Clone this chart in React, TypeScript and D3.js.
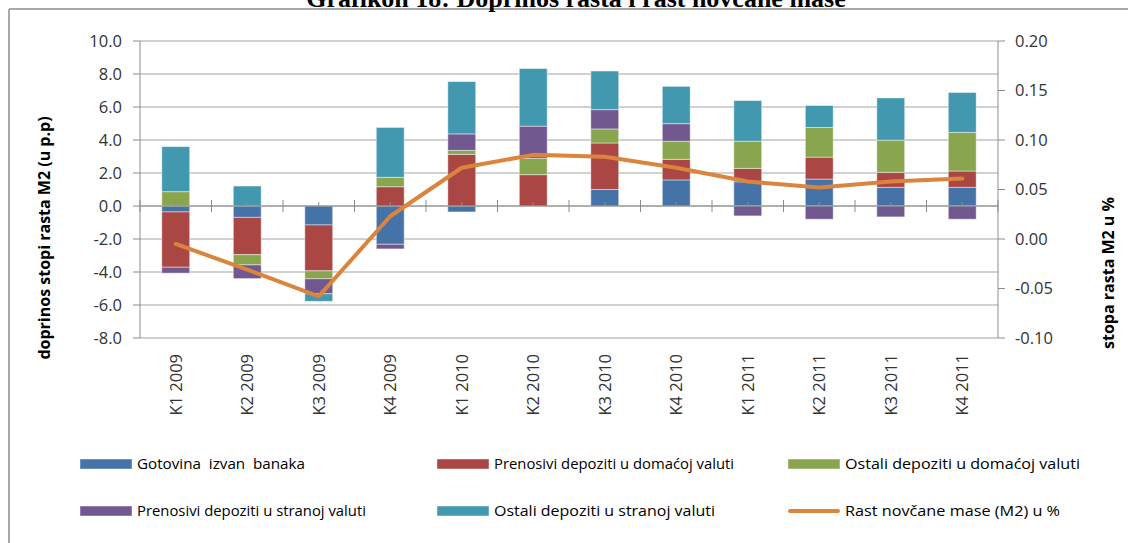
import React from 'react';
import * as d3 from 'd3';

// quarters on the category axis
const categories = [
  'K1 2009', 'K2 2009', 'K3 2009', 'K4 2009',
  'K1 2010', 'K2 2010', 'K3 2010', 'K4 2010',
  'K1 2011', 'K2 2011', 'K3 2011', 'K4 2011',
];

// contributions in p.p. (left axis)
const gotovina = [-0.36, -0.69, -1.15, -2.32, -0.36, 0.0, 1.0, 1.58, 1.47, 1.63, 1.13, 1.13];
const prenosiviDomaci = [-3.35, -2.26, -2.78, 1.17, 3.13, 1.9, 2.82, 1.25, 0.81, 1.33, 0.91, 0.99];
const ostaliDomaci = [0.87, -0.62, -0.48, 0.57, 0.24, 0.99, 0.85, 1.09, 1.65, 1.8, 1.95, 2.34];
const prenosiviStrani = [-0.36, -0.83, -0.91, -0.28, 1.0, 1.95, 1.17, 1.07, -0.6, -0.8, -0.66, -0.8];
const ostaliStrani = [2.73, 1.21, -0.46, 3.02, 3.17, 3.49, 2.34, 2.26, 2.46, 1.33, 2.56, 2.42];

// M2 growth (right axis)
const rastM2 = [-0.005, -0.031, -0.058, 0.023, 0.072, 0.085, 0.083, 0.072, 0.058, 0.052, 0.058, 0.061];

const leftTicks = [-8, -6, -4, -2, 0, 2, 4, 6, 8, 10];
const rightTicks = [-0.1, -0.05, 0, 0.05, 0.1, 0.15, 0.2];

const seriesNames = [
  'Gotovina  izvan  banaka',
  'Prenosivi depoziti u domaćoj valuti',
  'Ostali depoziti u domaćoj valuti',
  'Prenosivi depoziti u stranoj valuti',
  'Ostali depoziti u stranoj valuti',
];
const lineName = 'Rast novčane mase (M2) u %';
const seriesValues = [gotovina, prenosiviDomaci, ostaliDomaci, prenosiviStrani, ostaliStrani];
const colors = ['#4572A7', '#AA4643', '#89A54E', '#71588F', '#4198AF'];
const lineColor = '#DB843D';

const W = 1128;
const H = 543;
const plot = { left: 140, right: 998, top: 41, bottom: 338 };
const font = '"Open Sans", "DejaVu Sans", sans-serif';

const App: React.FC = () => {
  const x = d3.scaleBand<string>().domain(categories).range([plot.left, plot.right]).padding(0);
  const yL = d3.scaleLinear().domain([-8, 10]).range([plot.bottom, plot.top]);
  const yR = d3.scaleLinear().domain([-0.1, 0.2]).range([plot.bottom, plot.top]);
  const barW = x.bandwidth() * 0.39;
  const cx = (c: string) => (x(c) ?? 0) + x.bandwidth() / 2;

  const keys = seriesNames.map((_, i) => `s${i}`);
  const rows = categories.map((c, j) => {
    const r: Record<string, number | string> = { cat: c };
    keys.forEach((k, i) => { r[k] = seriesValues[i][j]; });
    return r;
  });
  const stacked = d3.stack<Record<string, number | string>>()
    .keys(keys)
    .value((d, k) => d[k] as number)
    .offset(d3.stackOffsetDiverging)(rows);

  const line = d3.line<number>()
    .x((_, i) => cx(categories[i]))
    .y(d => yR(d));

  const y0 = yL(0);

  // legend layout (positions only)
  const legendCols = [80, 437, 788];
  const legendRows = [464, 511];
  const legendTextW = [168, 240, 235, 229, 221, 215];
  const legendItems = [...seriesNames, lineName];

  return (
    <svg width={W} height={H} style={{ position: 'absolute', left: 0, top: 0, background: '#fff' }}>
      {/* frame */}
      <line x1={9} y1={9} x2={W} y2={9} stroke="#8c8c8c" strokeWidth={1.5} />
      <line x1={9} y1={9} x2={9} y2={H} stroke="#8c8c8c" strokeWidth={1.5} />

      <text x={576} y={7} textAnchor="middle" fontFamily='"Liberation Serif", serif'
        fontWeight="bold" fontSize={26} fill="#000">
        Grafikon 18: Doprinos rasta i rast novčane mase
      </text>

      {/* gridlines */}
      {leftTicks.map(t => (
        <line key={`g${t}`} x1={plot.left} x2={plot.right} y1={yL(t)} y2={yL(t)}
          stroke="#a3a3a3" strokeWidth={1} />
      ))}

      {/* bars */}
      {stacked.map((s, i) => (
        <g key={s.key} fill={colors[i]}>
          {s.map((d, j) => {
            const top = yL(Math.max(d[0], d[1]));
            const bot = yL(Math.min(d[0], d[1]));
            if (bot - top < 0.01) return null;
            return (
              <rect key={j} x={cx(categories[j]) - barW / 2} y={top} width={barW}
                height={bot - top} stroke="#ffffff" strokeOpacity={0.45} strokeWidth={1} />
            );
          })}
        </g>
      ))}

      {/* axes */}
      <line x1={plot.left} x2={plot.left} y1={plot.top} y2={plot.bottom} stroke="#8c8c8c" />
      <line x1={plot.right} x2={plot.right} y1={plot.top} y2={plot.bottom} stroke="#8c8c8c" />
      <line x1={plot.left} x2={plot.right} y1={y0} y2={y0} stroke="#8c8c8c" />
      {leftTicks.map(t => (
        <g key={`l${t}`}>
          <line x1={plot.left - 7} x2={plot.left} y1={yL(t)} y2={yL(t)} stroke="#8c8c8c" />
          <text x={122} y={yL(t)} dy="0.35em" textAnchor="end" fontFamily={font}
            fontSize={16.5} fill="#333">{t.toFixed(1)}</text>
        </g>
      ))}
      {rightTicks.map(t => (
        <g key={`r${t}`}>
          <line x1={plot.right} x2={plot.right + 7} y1={yR(t)} y2={yR(t)} stroke="#8c8c8c" />
          <text x={1015} y={yR(t)} dy="0.35em" textAnchor="start" fontFamily={font}
            fontSize={16.5} fill="#333">{t.toFixed(2)}</text>
        </g>
      ))}
      {categories.map((c, i) => (
        <g key={`x${c}`}>
          <line x1={x(c)} x2={x(c)} y1={y0 - 6} y2={y0 + 6} stroke="#8c8c8c" />
          {i === categories.length - 1 && (
            <line x1={plot.right} x2={plot.right} y1={y0 - 6} y2={y0 + 6} stroke="#8c8c8c" />
          )}
          <line x1={cx(c)} x2={cx(c)} y1={y0 - 4} y2={y0} stroke="#8c8c8c" />
          <text transform={`translate(${cx(c)},354) rotate(-90)`} textAnchor="end"
            dy="0.35em" fontFamily={font} fontSize={16.5} fill="#333">{c}</text>
        </g>
      ))}

      {/* M2 growth line */}
      <path d={line(rastM2) ?? ''} fill="none" stroke={lineColor} strokeWidth={4}
        strokeLinejoin="round" strokeLinecap="round" />

      {/* axis titles */}
      <text transform="translate(44,238) rotate(-90)" textAnchor="middle" dy="0.35em"
        fontFamily={font} fontWeight="bold" fontSize={16} fill="#000">
        doprinos stopi rasta M2 (u p.p)
      </text>
      <text transform="translate(1108,273) rotate(-90)" textAnchor="middle" dy="0.35em"
        fontFamily={font} fontWeight="bold" fontSize={16} fill="#000">
        stopa rasta M2 u %
      </text>

      {/* legend */}
      {legendItems.map((name, i) => {
        const lx = legendCols[i % 3];
        const ly = legendRows[Math.floor(i / 3)];
        const isLine = i === legendItems.length - 1;
        return (
          <g key={name}>
            {isLine ? (
              <line x1={lx + 2} x2={lx + 50} y1={ly} y2={ly} stroke={lineColor}
                strokeWidth={4} strokeLinecap="round" />
            ) : (
              <rect x={lx} y={ly - 5} width={52} height={10} fill={colors[i]}
                stroke="#ffffff" strokeOpacity={0.45} />
            )}
            <text x={lx + 57} y={ly} dy="0.35em" fontFamily={font} fontSize={15}
              fill="#000" textLength={legendTextW[i]} lengthAdjust="spacingAndGlyphs"
              style={{ whiteSpace: 'pre' }}>{name}</text>
          </g>
        );
      })}
    </svg>
  );
};

export default App;
